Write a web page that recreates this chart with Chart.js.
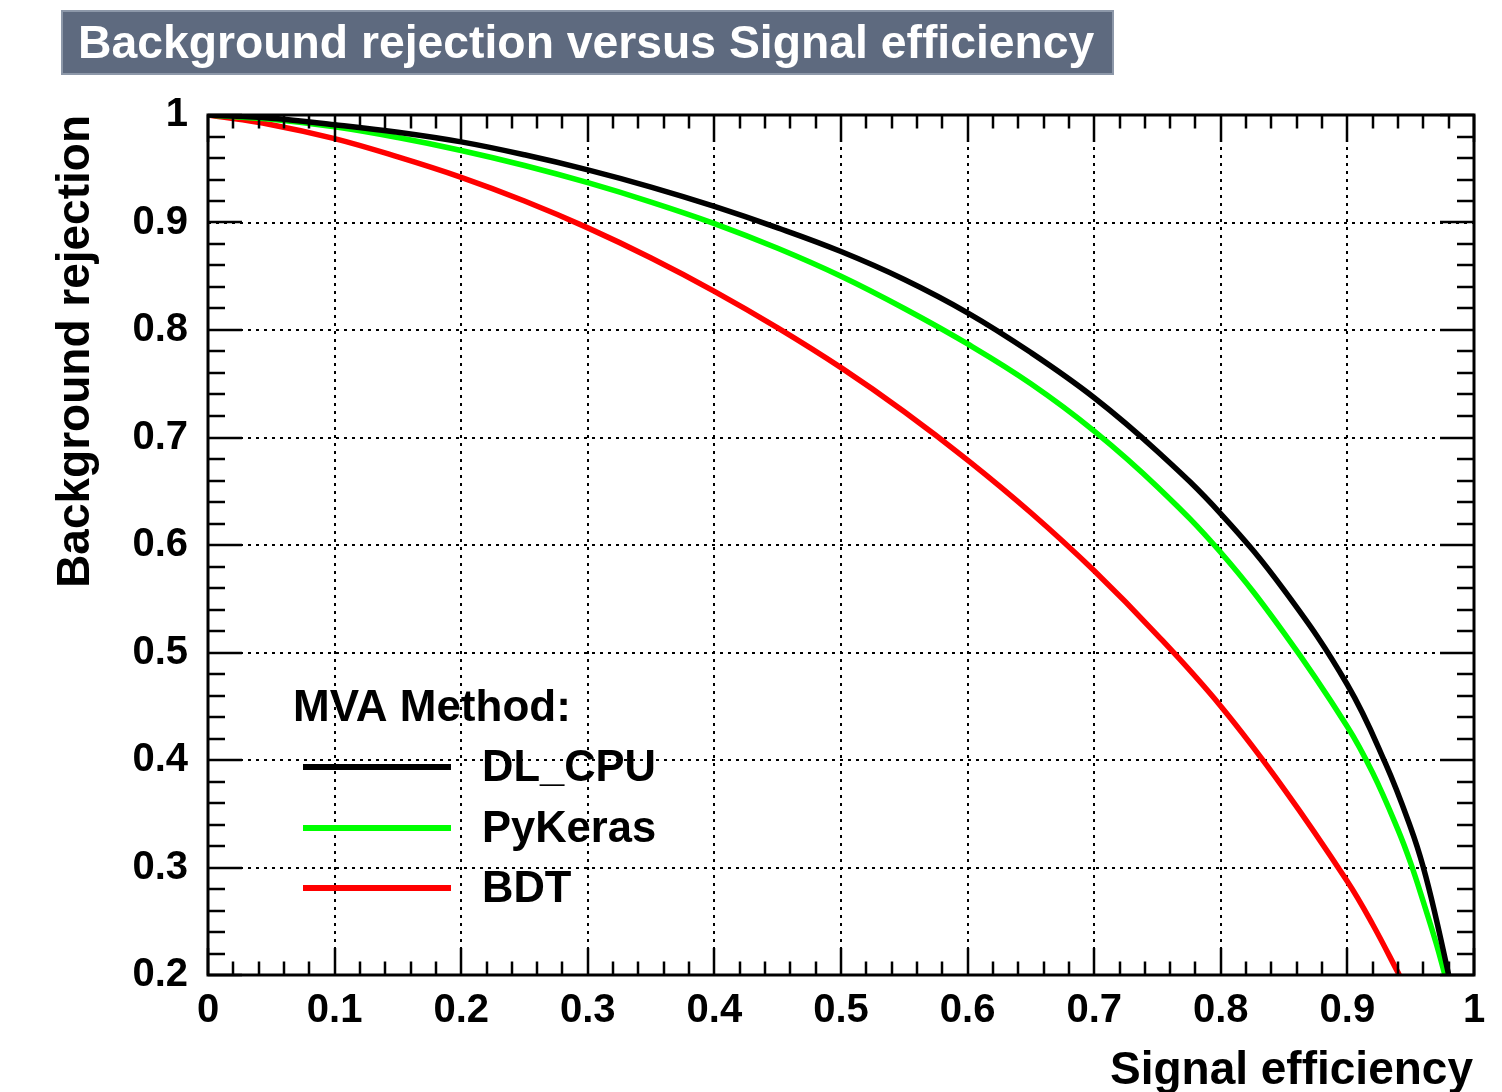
<!DOCTYPE html>
<html><head><meta charset="utf-8">
<script src="https://cdn.jsdelivr.net/npm/chart.js@4.4.1/dist/chart.umd.min.js"></script>
<style>html,body{margin:0;padding:0;background:#fff;}canvas{display:block;}</style>
</head><body>
<canvas id="c" width="1502" height="1092"></canvas>
<script>
// ---- text ----
const titleText = 'Background rejection versus Signal efficiency';
const xAxisTitle = 'Signal efficiency';
const yAxisTitle = 'Background rejection';
const legendHeader = 'MVA Method:';
const methodNames = ['DL_CPU', 'PyKeras', 'BDT'];
const methodColors = ['#000000', '#00ff00', '#ff0000'];

// ---- tick labels ----
const xTickLabels = ['0', '0.1', '0.2', '0.3', '0.4', '0.5', '0.6', '0.7', '0.8', '0.9', '1'];
const yTickLabels = ['0.2', '0.3', '0.4', '0.5', '0.6', '0.7', '0.8', '0.9', '1'];

// ---- data (signal efficiency, background rejection) ----
const dlEff  = [0, 0.05, 0.1, 0.15, 0.2, 0.25, 0.3, 0.35, 0.4, 0.45, 0.5, 0.55, 0.6, 0.65, 0.7, 0.75, 0.8, 0.85, 0.9, 0.93, 0.95, 0.96, 0.97, 0.98];
const dlRej  = [1.0, 0.997, 0.991, 0.984, 0.975, 0.963, 0.949, 0.933, 0.915, 0.895, 0.873, 0.847, 0.816, 0.779, 0.737, 0.687, 0.629, 0.558, 0.470, 0.397, 0.337, 0.300, 0.253, 0.200];

const pkEff  = [0, 0.05, 0.1, 0.15, 0.2, 0.25, 0.3, 0.35, 0.4, 0.45, 0.5, 0.55, 0.6, 0.65, 0.7, 0.75, 0.8, 0.85, 0.9, 0.92, 0.94, 0.95, 0.96, 0.97, 0.977];
const pkRej  = [1.0, 0.996, 0.989, 0.979, 0.967, 0.953, 0.937, 0.919, 0.899, 0.876, 0.850, 0.820, 0.787, 0.750, 0.706, 0.654, 0.593, 0.518, 0.431, 0.388, 0.335, 0.304, 0.268, 0.230, 0.200];

const bdtEff = [0, 0.05, 0.1, 0.15, 0.2, 0.25, 0.3, 0.35, 0.4, 0.45, 0.5, 0.55, 0.6, 0.65, 0.7, 0.75, 0.8, 0.85, 0.9, 0.92, 0.941];
const bdtRej = [1.0, 0.991, 0.978, 0.961, 0.942, 0.920, 0.895, 0.867, 0.836, 0.802, 0.765, 0.724, 0.679, 0.630, 0.576, 0.516, 0.450, 0.373, 0.287, 0.247, 0.200];

const FONT = '"Liberation Sans", Arial, Helvetica, sans-serif';
const toPts = (xs, ys) => xs.map((x, i) => ({x: x, y: ys[i]}));

const rootStyle = {
  id: 'rootStyle',
  beforeDraw(chart) {
    const ctx = chart.ctx;
    ctx.save();
    ctx.fillStyle = '#ffffff';
    ctx.fillRect(0, 0, chart.width, chart.height);
    ctx.restore();
  },
  afterDatasetsDraw(chart) {
    const ctx = chart.ctx, a = chart.chartArea;
    const xs = chart.scales.x, ys = chart.scales.y;
    ctx.save();
    ctx.strokeStyle = '#000';
    ctx.lineWidth = 2.5;
    ctx.lineCap = 'butt';
    ctx.beginPath();
    // x ticks (bottom & top)
    for (let i = 0; i <= 50; i++) {
      const px = Math.round(xs.getPixelForValue(i * 0.02));
      const len = (i % 5 === 0) ? 27 : 13.5;
      ctx.moveTo(px, a.bottom); ctx.lineTo(px, a.bottom - len);
      ctx.moveTo(px, a.top); ctx.lineTo(px, a.top + len);
    }
    // y ticks (left & right)
    for (let i = 0; i <= 40; i++) {
      const py = Math.round(ys.getPixelForValue(0.2 + i * 0.02));
      const len = (i % 5 === 0) ? 34 : 17;
      ctx.moveTo(a.left, py); ctx.lineTo(a.left + len, py);
      ctx.moveTo(a.right, py); ctx.lineTo(a.right - len, py);
    }
    ctx.stroke();
    // frame
    ctx.lineWidth = 3;
    ctx.strokeRect(a.left, a.top, a.right - a.left, a.bottom - a.top);
    ctx.restore();
  },
  afterDraw(chart) {
    const ctx = chart.ctx, a = chart.chartArea;
    ctx.save();
    // title box
    ctx.fillStyle = '#5e6a7f';
    ctx.fillRect(61, 10, 1053, 65);
    ctx.strokeStyle = '#8d98a9';
    ctx.lineWidth = 2;
    ctx.strokeRect(62, 11, 1051, 63);
    ctx.fillStyle = '#ffffff';
    ctx.font = 'bold 46.3px ' + FONT;
    ctx.textAlign = 'left';
    ctx.textBaseline = 'alphabetic';
    ctx.fillText(titleText, 78, 58);

    // axis titles
    ctx.fillStyle = '#000';
    ctx.font = 'bold 46px ' + FONT;
    ctx.textAlign = 'right';
    ctx.fillText(xAxisTitle, a.right - 1, 1084);
    ctx.save();
    ctx.translate(89, a.top);
    ctx.rotate(-Math.PI / 2);
    ctx.textAlign = 'right';
    ctx.fillText(yAxisTitle, 0, 0);
    ctx.restore();

    // legend
    ctx.font = 'bold 44px ' + FONT;
    ctx.textAlign = 'left';
    ctx.fillText(legendHeader, 293, 721);
    ctx.font = 'bold 43.5px ' + FONT;
    const rows = [767, 828, 888];
    chart.data.datasets.forEach((ds, i) => {
      ctx.strokeStyle = ds.borderColor;
      ctx.lineWidth = 6;
      ctx.beginPath();
      ctx.moveTo(303, rows[i]); ctx.lineTo(451, rows[i]);
      ctx.stroke();
      ctx.fillStyle = '#000';
      ctx.fillText(ds.label, 482, rows[i] + 14);
    });
    ctx.restore();
  }
};

const mkDs = (i, xs, ys) => ({
  label: methodNames[i],
  data: toPts(xs, ys),
  borderColor: methodColors[i],
  backgroundColor: methodColors[i],
  borderWidth: 5.5,
  pointRadius: 0,
  showLine: true,
  fill: false,
  tension: 0.4
});

new Chart(document.getElementById('c'), {
  type: 'scatter',
  data: {
    datasets: [
      mkDs(0, dlEff, dlRej),
      mkDs(1, pkEff, pkRej),
      mkDs(2, bdtEff, bdtRej)
    ]
  },
  options: {
    responsive: false,
    animation: false,
    devicePixelRatio: 1,
    layout: { padding: { left: 0, top: 115, right: 28, bottom: 0 } },
    plugins: { legend: { display: false }, tooltip: { enabled: false }, title: { display: false } },
    scales: {
      x: {
        type: 'linear', min: 0, max: 1,
        afterFit: (s) => { s.height = 117; },
        ticks: {
          stepSize: 0.1,
          padding: 12,
          color: '#000',
          font: { family: FONT, size: 40, weight: 'bold' },
          maxRotation: 0,
          autoSkip: false,
          callback: (v) => xTickLabels[Math.round(v * 10)]
        },
        grid: { color: '#000', lineWidth: 2, drawTicks: false },
        border: { display: false, dash: [3, 5] }
      },
      y: {
        type: 'linear', min: 0.2, max: 1,
        afterFit: (s) => { s.width = 208; },
        ticks: {
          stepSize: 0.1,
          padding: 20,
          color: '#000',
          font: { family: FONT, size: 40, weight: 'bold' },
          autoSkip: false,
          callback: (v) => yTickLabels[Math.round((v - 0.2) * 10)]
        },
        grid: { color: '#000', lineWidth: 2, drawTicks: false },
        border: { display: false, dash: [3, 5] }
      }
    }
  },
  plugins: [rootStyle]
});
</script>
</body></html>
